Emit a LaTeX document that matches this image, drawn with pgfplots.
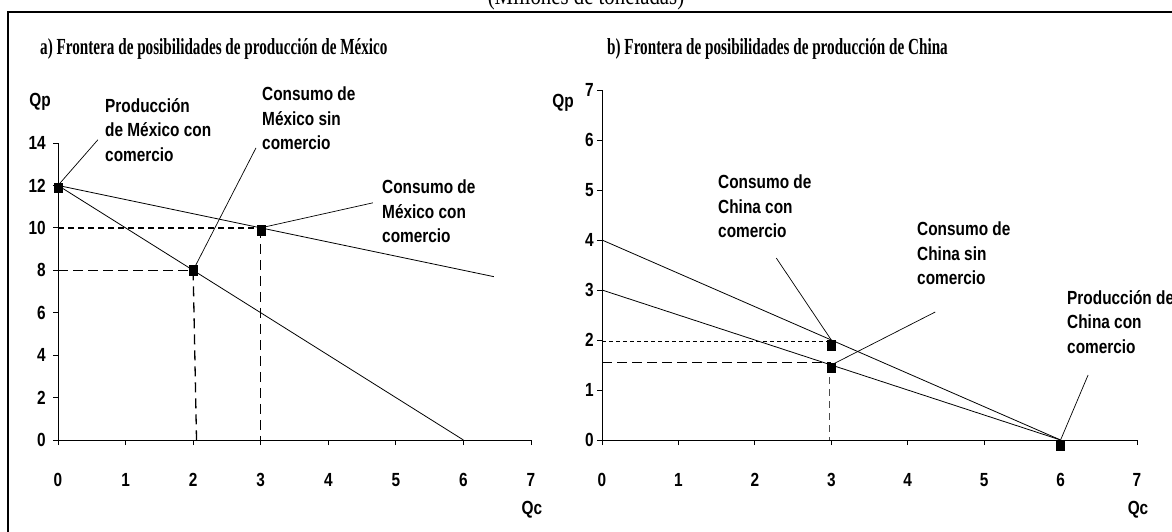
\documentclass[border=0pt]{standalone}
\usepackage{pgfplots}
\pgfplotsset{compat=1.18}
\usepackage{fontspec}
\setmainfont{Liberation Sans}
\newfontfamily\lab{Liberation Sans}[FakeStretch=0.81]
\newfontfamily\ttl{Liberation Serif}[FakeStretch=0.66]
\newfontfamily\ttlb{Liberation Serif}[FakeStretch=0.8]
\pgfplotsset{mystyle/.style={scale only axis, axis x line=bottom, axis y line=left,
  axis line style={-, line width=1pt, black},
  tick align=outside, major tick length=5pt, tick style={black, line width=0.8pt},
  clip=false, /pgf/number format/assume math mode=true,
  ticklabel style={font=\lab\bfseries\fontsize{19}{20}\selectfont, inner sep=0pt},
  xticklabel style={anchor=center, yshift=-35pt},
}}
\begin{document}
\begin{tikzpicture}
\useasboundingbox (0pt,0pt) rectangle (1172pt,531pt);
\clip (0pt,0pt) rectangle (1172pt,531pt);
\draw[line width=2.5pt] (8pt,-5pt) -- (8pt,519pt) -- (1180pt,519pt);
\node[font=\ttlb\fontsize{26}{28}\selectfont, anchor=base] at (586pt,526.5pt) {(Millones de toneladas)};
\node[font=\ttl\bfseries\fontsize{23}{26}\selectfont, anchor=base west, inner sep=0pt] at (40pt,476pt) {a) Frontera de posibilidades de producción de México};
\node[font=\ttl\bfseries\fontsize{23}{26}\selectfont, anchor=base west, inner sep=0pt] at (607pt,476pt) {b) Frontera de posibilidades de producción de China};

\begin{axis}[mystyle, at={(58pt,91pt)}, anchor=origin, width=473pt, height=297pt,
  xmin=0, xmax=7, ymin=0, ymax=14, xtick={0,...,7}, ytick={0,2,...,14},
  yticklabel style={anchor=east, xshift=-7pt}]
\addplot[black, line width=0.8pt] coordinates {(0,12) (6,0)};
\addplot[black, line width=0.8pt] coordinates {(0,12) (6.45,7.7)};
\addplot[black, line width=1.3pt, dash pattern=on 6pt off 4pt] coordinates {(0,10) (3,10)};
\addplot[black, line width=1.3pt, dash pattern=on 10pt off 5pt] coordinates {(0,8) (2,8)};
\addplot[black, line width=1.3pt, dash pattern=on 10pt off 6pt] coordinates {(2,8) (2.05,0)};
\addplot[black, line width=1.3pt, dash pattern=on 10pt off 6pt] coordinates {(3,10) (3,0)};
\addplot[only marks, mark=square*, mark size=4pt, mark options={yscale=1.2}, black] coordinates {(0,11.9) (2,8) (3,9.9)};
\draw[line width=0.7pt] (axis cs:0,12) -- (axis cs:0.59,14.15);
\draw[line width=0.7pt] (axis cs:2,8) -- (axis cs:2.93,13.77);
\draw[line width=0.7pt] (axis cs:3,10) -- (axis cs:4.66,11.18);
\end{axis}

\begin{axis}[mystyle, at={(602pt,91pt)}, anchor=origin, width=535pt, height=350pt,
  xmin=0, xmax=7, ymin=0, ymax=7, xtick={0,...,7}, ytick={0,...,7},
  yticklabel style={anchor=east, xshift=-3pt}]
\addplot[black, line width=0.8pt] coordinates {(0,4) (6,0)};
\addplot[black, line width=0.8pt] coordinates {(0,3) (6,0)};
\addplot[black, line width=1.3pt, dash pattern=on 4pt off 3pt] coordinates {(0,1.97) (3,1.97)};
\addplot[black, line width=1.3pt, dash pattern=on 10pt off 5pt] coordinates {(0,1.55) (3,1.55)};
\addplot[black!70, line width=1pt, dash pattern=on 7pt off 5pt] coordinates {(2.97,1.5) (2.97,0)};
\addplot[only marks, mark=square*, mark size=4pt, mark options={yscale=1.2}, black] coordinates {(3,1.9) (3,1.45) (6,-0.1)};
\draw[line width=0.7pt] (axis cs:3,2) -- (axis cs:2.28,3.64);
\draw[line width=0.7pt] (axis cs:3,1.5) -- (axis cs:4.36,2.56);
\draw[line width=0.7pt] (axis cs:6,0) -- (axis cs:6.36,1.3);
\end{axis}

\tikzset{lbl/.style={font=\lab\bfseries\fontsize{19}{24.5}\selectfont, inner sep=0pt, align=left, anchor=north west}}
\node[lbl, anchor=center] at (40pt,429pt) {Qp};
\node[lbl, anchor=center] at (532pt,21pt) {Qc};
\node[lbl, anchor=center] at (563pt,428pt) {Qp};
\node[lbl, anchor=center] at (1138pt,21pt) {Qc};
\node[lbl] at (105pt,433pt) {Producción\\de México con\\comercio};
\node[lbl] at (262pt,444pt) {Consumo de\\México sin\\comercio};
\node[lbl] at (382pt,351pt) {Consumo de\\México con\\comercio};
\node[lbl] at (718pt,356pt) {Consumo de\\China con\\comercio};
\node[lbl] at (917pt,309pt) {Consumo de\\China sin\\comercio};
\node[lbl] at (1067pt,241pt) {Producción de\\China con\\comercio};
\end{tikzpicture}
\end{document}
